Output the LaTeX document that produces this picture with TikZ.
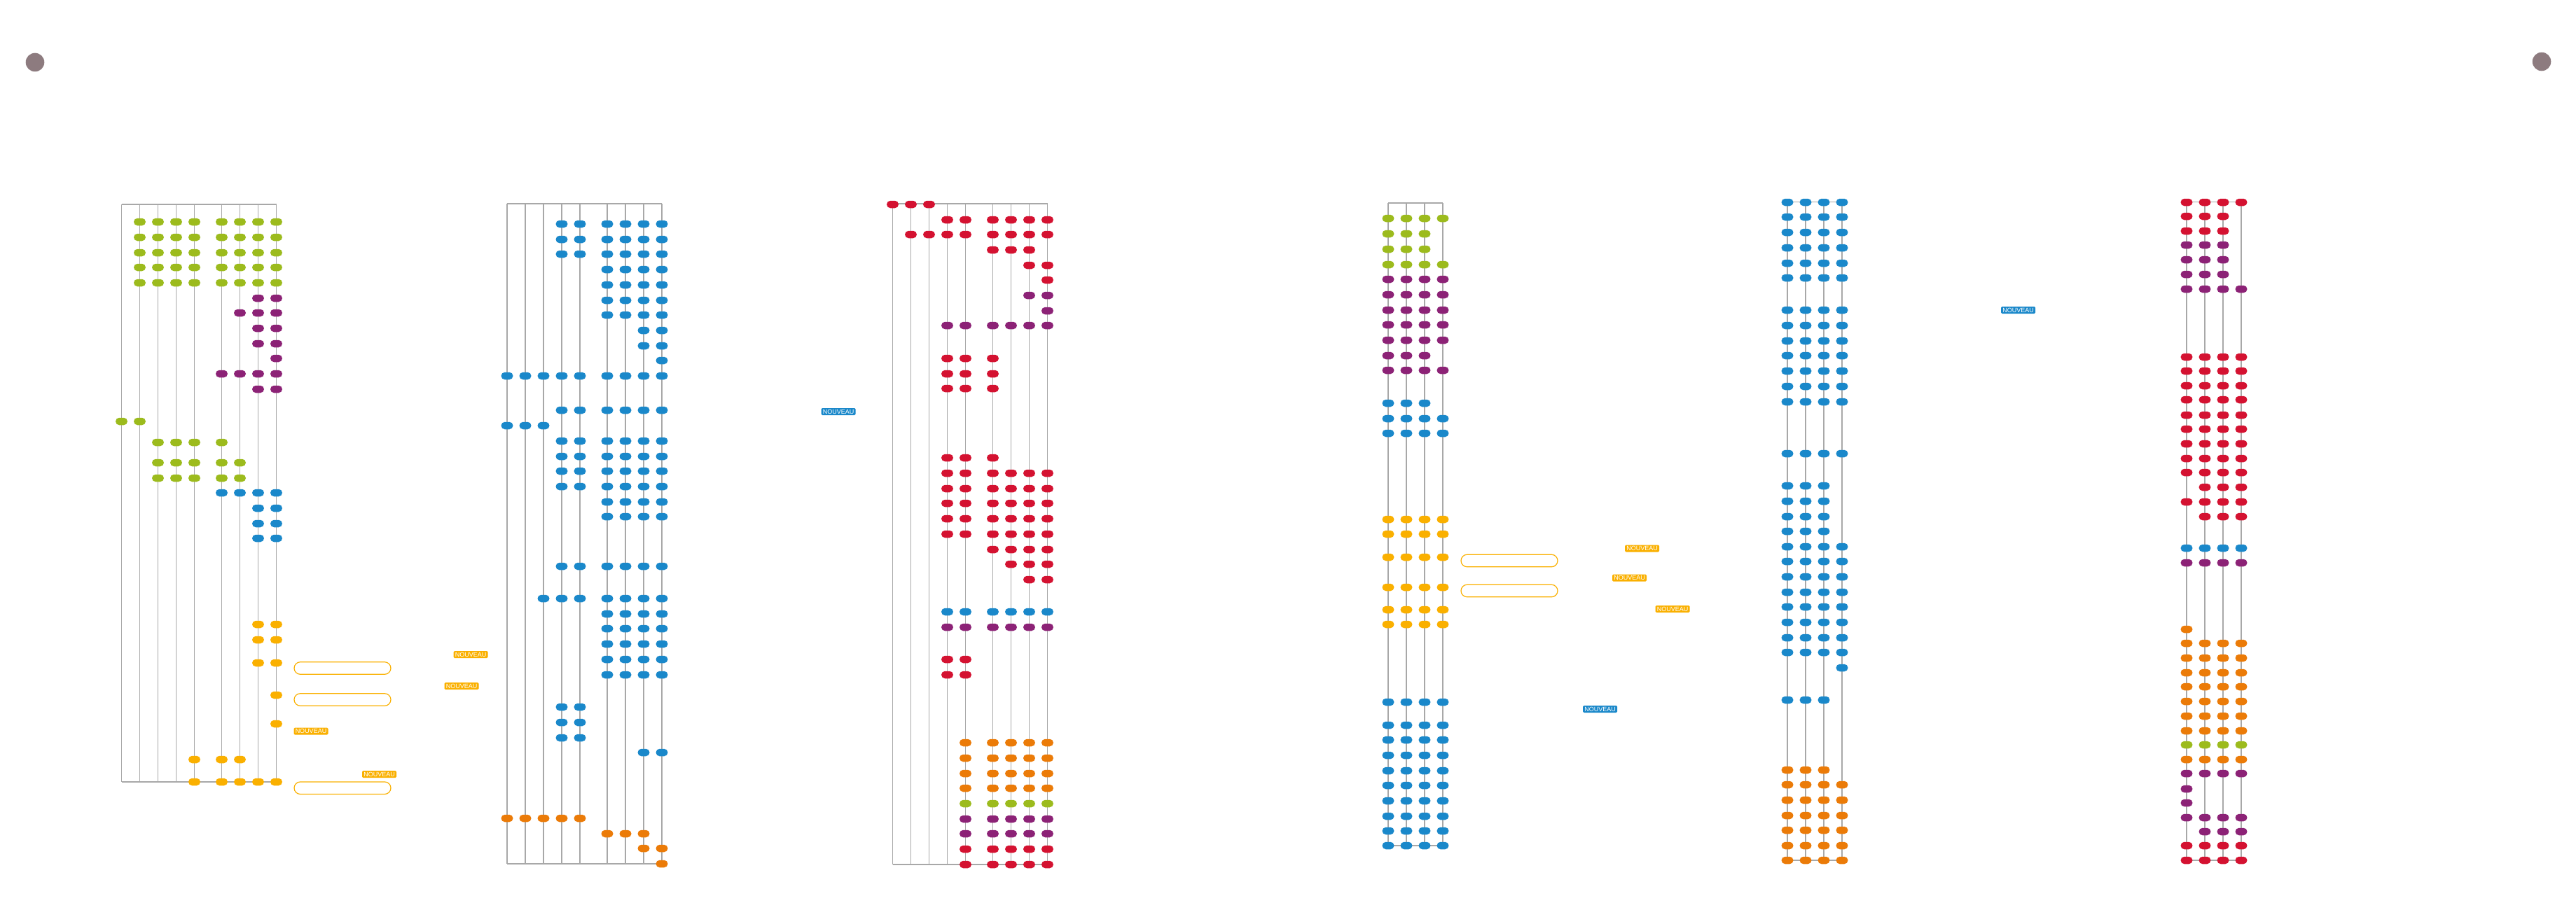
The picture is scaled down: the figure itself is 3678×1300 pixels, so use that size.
\documentclass[tikz,border=0pt]{standalone}
\usepackage{fontspec}
\setmainfont{Liberation Sans}
\newfontfamily\labfamily{Liberation Sans}
\definecolor{cg}{HTML}{9CBB1D}
\definecolor{cp}{HTML}{8C2276}
\definecolor{cb}{HTML}{1A88CA}
\definecolor{cy}{HTML}{FAB000}
\definecolor{co}{HTML}{EB7B08}
\definecolor{cr}{HTML}{D41231}
\definecolor{cc}{HTML}{8D7B7F}
\definecolor{cl}{HTML}{A8A8A8}
\tikzset{
  pill/.style={rectangle,rounded corners=5.25pt,minimum width=17pt,minimum height=10.5pt,inner sep=0pt,draw=none},
  colline/.style={draw=cl,line width=1.3pt},
  newlab/.style={rectangle,rounded corners=1.5pt,fill=#1,text=white,font=\labfamily\fontsize{9}{9}\selectfont,inner sep=0pt,minimum width=49pt,minimum height=10pt},
  outl/.style={rectangle,rounded corners=8.8pt,draw=cy,line width=1.2pt,minimum width=138pt,minimum height=17.6pt,inner sep=0pt},
  bigdot/.style={circle,fill=cc,minimum size=26.6pt,inner sep=0pt,draw=none}
}
% id, base x, number of columns, top y, bottom y
\newcommand\mkpanel[5]{%
  \foreach \c in {1,...,#3}{%
    \pgfmathsetmacro\xx{#2+26*(\c-1)+13*(\c>5)}%
    \coordinate (#1t\c) at (\xx,#4);
    \coordinate (#1b\c) at (\xx,#5);
    \draw[colline] (#1t\c) -- (#1b\c);
  }%
  \draw[colline] (#1t1) -- (#1t#3);
  \draw[colline] (#1b1) -- (#1b#3);
}
% id, base x, y, colour, columns
\newcommand\prow[5]{%
  \foreach \c in {#5}{%
    \pgfmathsetmacro\xx{#2+26*(\c-1)+13*(\c>5)}%
    \node[pill,fill=#4] (#1-\c-#3) at (\xx,#3) {};
  }%
}
\newcommand\rowA[3]{\prow{a}{173.5}{#1}{#2}{#3}}
\newcommand\rowB[3]{\prow{b}{724}{#1}{#2}{#3}}
\newcommand\rowC[3]{\prow{c}{1274.5}{#1}{#2}{#3}}
\newcommand\rowD[3]{\prow{d}{1982}{#1}{#2}{#3}}
\newcommand\rowE[3]{\prow{e}{2552}{#1}{#2}{#3}}
\newcommand\rowF[3]{\prow{f}{3122}{#1}{#2}{#3}}
\begin{document}
\begin{tikzpicture}[x=1pt,y=-1pt]
\fill[white] (0,0) rectangle (3678,1300);
\useasboundingbox (0,0) rectangle (3678,1300);

\node[bigdot] (dotl) at (50,89) {};
\node[bigdot] (dotr) at (3629,88) {};

% frames
\mkpanel{a}{173.5}{9}{292}{1117}
\mkpanel{b}{724}{9}{291}{1234}
\mkpanel{c}{1274.5}{9}{291}{1235}
\mkpanel{d}{1982}{4}{290}{1208}
\mkpanel{e}{2552}{4}{288.5}{1229}
\mkpanel{f}{3122}{4}{288.5}{1229}

% panel 1
\rowA{317}{cg}{2,...,9}
\rowA{339}{cg}{2,...,9}
\rowA{361}{cg}{2,...,9}
\rowA{382}{cg}{2,...,9}
\rowA{404}{cg}{2,...,9}
\rowA{426}{cp}{8,9}
\rowA{447}{cp}{7,8,9}
\rowA{469}{cp}{8,9}
\rowA{491}{cp}{8,9}
\rowA{512}{cp}{9}
\rowA{534}{cp}{6,7,8,9}
\rowA{556}{cp}{8,9}
\rowA{602}{cg}{1,2}
\rowA{632}{cg}{3,4,5,6}
\rowA{661}{cg}{3,4,5,6,7}
\rowA{683}{cg}{3,4,5,6,7}
\rowA{704}{cb}{6,7,8,9}
\rowA{726}{cb}{8,9}
\rowA{748}{cb}{8,9}
\rowA{769}{cb}{8,9}
\rowA{892}{cy}{8,9}
\rowA{914}{cy}{8,9}
\rowA{947}{cy}{8,9}
\rowA{993}{cy}{9}
\rowA{1034}{cy}{9}
\rowA{1085}{cy}{5,6,7}
\rowA{1117}{cy}{5,6,7,8,9}

% panel 2
\rowB{320}{cb}{4,...,9}
\rowB{342}{cb}{4,...,9}
\rowB{363}{cb}{4,...,9}
\rowB{385}{cb}{6,7,8,9}
\rowB{407}{cb}{6,7,8,9}
\rowB{429}{cb}{6,7,8,9}
\rowB{450}{cb}{6,7,8,9}
\rowB{472}{cb}{8,9}
\rowB{494}{cb}{8,9}
\rowB{515}{cb}{9}
\rowB{537}{cb}{1,...,9}
\rowB{586}{cb}{4,...,9}
\rowB{608}{cb}{1,2,3}
\rowB{630}{cb}{4,...,9}
\rowB{652}{cb}{4,...,9}
\rowB{673}{cb}{4,...,9}
\rowB{695}{cb}{4,...,9}
\rowB{717}{cb}{6,7,8,9}
\rowB{738}{cb}{6,7,8,9}
\rowB{809}{cb}{4,...,9}
\rowB{855}{cb}{3,...,9}
\rowB{877}{cb}{6,7,8,9}
\rowB{898}{cb}{6,7,8,9}
\rowB{920}{cb}{6,7,8,9}
\rowB{942}{cb}{6,7,8,9}
\rowB{964}{cb}{6,7,8,9}
\rowB{1010}{cb}{4,5}
\rowB{1032}{cb}{4,5}
\rowB{1054}{cb}{4,5}
\rowB{1075}{cb}{8,9}
\rowB{1169}{co}{1,...,5}
\rowB{1191}{co}{6,7,8}
\rowB{1212}{co}{8,9}
\rowB{1234}{co}{9}

% panel 3
\rowC{292}{cr}{1,2,3}
\rowC{314}{cr}{4,...,9}
\rowC{335}{cr}{2,...,9}
\rowC{357}{cr}{6,7,8}
\rowC{379}{cr}{8,9}
\rowC{400}{cr}{9}
\rowC{422}{cp}{8,9}
\rowC{444}{cp}{9}
\rowC{465}{cp}{4,...,9}
\rowC{512}{cr}{4,5,6}
\rowC{534}{cr}{4,5,6}
\rowC{555}{cr}{4,5,6}
\rowC{654}{cr}{4,5,6}
\rowC{676}{cr}{4,...,9}
\rowC{698}{cr}{4,...,9}
\rowC{719}{cr}{4,...,9}
\rowC{741}{cr}{4,...,9}
\rowC{763}{cr}{4,...,9}
\rowC{785}{cr}{6,7,8,9}
\rowC{806}{cr}{7,8,9}
\rowC{828}{cr}{8,9}
\rowC{874}{cb}{4,...,9}
\rowC{896}{cp}{4,...,9}
\rowC{942}{cr}{4,5}
\rowC{964}{cr}{4,5}
\rowC{1061}{co}{5,...,9}
\rowC{1083}{co}{5,...,9}
\rowC{1105}{co}{5,...,9}
\rowC{1126}{co}{5,...,9}
\rowC{1148}{cg}{5,...,9}
\rowC{1170}{cp}{5,...,9}
\rowC{1191}{cp}{5,...,9}
\rowC{1213}{cr}{5,...,9}
\rowC{1235}{cr}{5,...,9}

% panel 4
\rowD{312}{cg}{1,2,3,4}
\rowD{334}{cg}{1,2,3}
\rowD{356}{cg}{1,2,3}
\rowD{378}{cg}{1,2,3,4}
\rowD{399}{cp}{1,2,3,4}
\rowD{421}{cp}{1,2,3,4}
\rowD{443}{cp}{1,2,3,4}
\rowD{464}{cp}{1,2,3,4}
\rowD{486}{cp}{1,2,3,4}
\rowD{508}{cp}{1,2,3}
\rowD{529}{cp}{1,2,3,4}
\rowD{576}{cb}{1,2,3}
\rowD{598}{cb}{1,2,3,4}
\rowD{619}{cb}{1,2,3,4}
\rowD{742}{cy}{1,2,3,4}
\rowD{763}{cy}{1,2,3,4}
\rowD{796}{cy}{1,2,3,4}
\rowD{839}{cy}{1,2,3,4}
\rowD{871}{cy}{1,2,3,4}
\rowD{892}{cy}{1,2,3,4}
\rowD{1003}{cb}{1,2,3,4}
\rowD{1036}{cb}{1,2,3,4}
\rowD{1057}{cb}{1,2,3,4}
\rowD{1079}{cb}{1,2,3,4}
\rowD{1101}{cb}{1,2,3,4}
\rowD{1122}{cb}{1,2,3,4}
\rowD{1144}{cb}{1,2,3,4}
\rowD{1166}{cb}{1,2,3,4}
\rowD{1187}{cb}{1,2,3,4}
\rowD{1208}{cb}{1,2,3,4}

% panel 5
\rowE{289}{cb}{1,2,3,4}
\rowE{310}{cb}{1,2,3,4}
\rowE{332}{cb}{1,2,3,4}
\rowE{354}{cb}{1,2,3,4}
\rowE{376}{cb}{1,2,3,4}
\rowE{397}{cb}{1,2,3,4}
\rowE{443}{cb}{1,2,3,4}
\rowE{465}{cb}{1,2,3,4}
\rowE{487}{cb}{1,2,3,4}
\rowE{508}{cb}{1,2,3,4}
\rowE{530}{cb}{1,2,3,4}
\rowE{552}{cb}{1,2,3,4}
\rowE{574}{cb}{1,2,3,4}
\rowE{648}{cb}{1,2,3,4}
\rowE{694}{cb}{1,2,3}
\rowE{716}{cb}{1,2,3}
\rowE{738}{cb}{1,2,3}
\rowE{759}{cb}{1,2,3}
\rowE{781}{cb}{1,2,3,4}
\rowE{802}{cb}{1,2,3,4}
\rowE{824}{cb}{1,2,3,4}
\rowE{846}{cb}{1,2,3,4}
\rowE{867}{cb}{1,2,3,4}
\rowE{889}{cb}{1,2,3,4}
\rowE{911}{cb}{1,2,3,4}
\rowE{932}{cb}{1,2,3,4}
\rowE{954}{cb}{4}
\rowE{1000}{cb}{1,2,3}
\rowE{1100}{co}{1,2,3}
\rowE{1121}{co}{1,2,3,4}
\rowE{1143}{co}{1,2,3,4}
\rowE{1165}{co}{1,2,3,4}
\rowE{1186}{co}{1,2,3,4}
\rowE{1208}{co}{1,2,3,4}
\rowE{1229}{co}{1,2,3,4}

% panel 6
\rowF{289}{cr}{1,2,3,4}
\rowF{309}{cr}{1,2,3}
\rowF{330}{cr}{1,2,3}
\rowF{350}{cp}{1,2,3}
\rowF{371}{cp}{1,2,3}
\rowF{392}{cp}{1,2,3}
\rowF{413}{cp}{1,2,3,4}
\rowF{510}{cr}{1,2,3,4}
\rowF{530}{cr}{1,2,3,4}
\rowF{551}{cr}{1,2,3,4}
\rowF{571}{cr}{1,2,3,4}
\rowF{593}{cr}{1,2,3,4}
\rowF{613}{cr}{1,2,3,4}
\rowF{634}{cr}{1,2,3,4}
\rowF{655}{cr}{1,2,3,4}
\rowF{675}{cr}{1,2,3,4}
\rowF{696}{cr}{2,3,4}
\rowF{717}{cr}{1,2,3,4}
\rowF{738}{cr}{2,3,4}
\rowF{783}{cb}{1,2,3,4}
\rowF{804}{cp}{1,2,3,4}
\rowF{899}{co}{1}
\rowF{919}{co}{1,2,3,4}
\rowF{940}{co}{1,2,3,4}
\rowF{961}{co}{1,2,3,4}
\rowF{981}{co}{1,2,3,4}
\rowF{1002}{co}{1,2,3,4}
\rowF{1023}{co}{1,2,3,4}
\rowF{1044}{co}{1,2,3,4}
\rowF{1064}{cg}{1,2,3,4}
\rowF{1085}{co}{1,2,3,4}
\rowF{1105}{cp}{1,2,3,4}
\rowF{1127}{cp}{1}
\rowF{1147}{cp}{1}
\rowF{1168}{cp}{1,2,3,4}
\rowF{1188}{cp}{2,3,4}
\rowF{1208}{cr}{1,2,3,4}
\rowF{1229}{cr}{1,2,3,4}

% outlined boxes
\node[outl] (box1) at (489,954.5) {};
\node[outl] (box2) at (489,999.5) {};
\node[outl] (box3) at (489,1125.7) {};
\node[outl] (box4) at (2155,801) {};
\node[outl] (box5) at (2155,844) {};

% labels
\node[newlab=cy] (n1) at (672,935) {NOUVEAU};
\node[newlab=cy] (n2) at (659,980) {NOUVEAU};
\node[newlab=cy] (n3) at (444,1044.5) {NOUVEAU};
\node[newlab=cy] (n4) at (541.5,1106) {NOUVEAU};
\node[newlab=cb] (n5) at (1197,588) {NOUVEAU};
\node[newlab=cy] (n6) at (2344.5,783.5) {NOUVEAU};
\node[newlab=cy] (n7) at (2326.5,825.7) {NOUVEAU};
\node[newlab=cy] (n8) at (2388,870) {NOUVEAU};
\node[newlab=cb] (n9) at (2284.5,1013) {NOUVEAU};
\node[newlab=cb] (n10) at (2881.5,443) {NOUVEAU};
\end{tikzpicture}
\end{document}
